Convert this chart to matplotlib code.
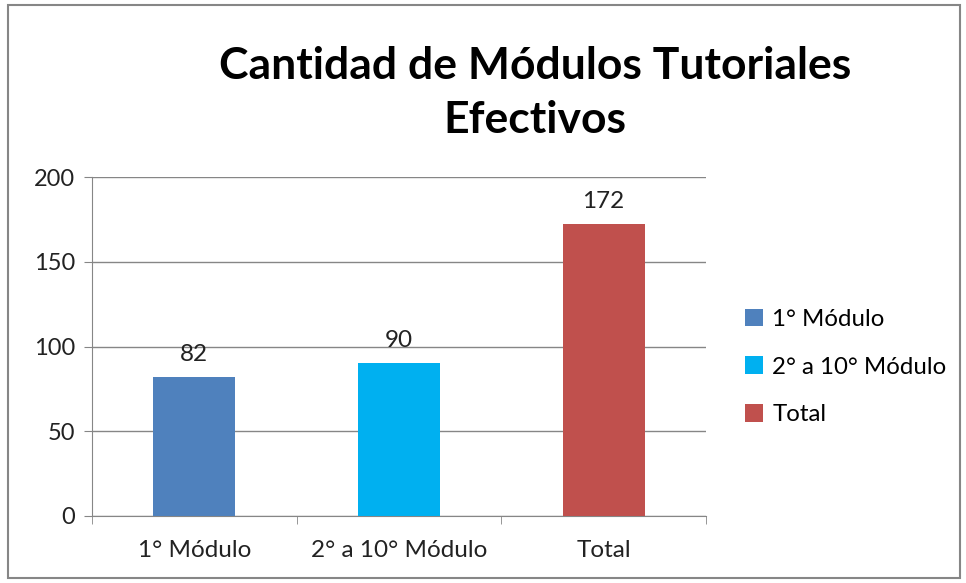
import matplotlib
matplotlib.use('Agg')
import matplotlib.pyplot as plt
from matplotlib.patches import Rectangle, Patch

# Datos del grafico
categorias = ['1° Módulo', '2° a 10° Módulo', 'Total']
valores = [82, 90, 172]
colores = ['#4F81BD', '#00B0F0', '#C0504D']
yticks = [0, 50, 100, 150, 200]

plt.rcParams['font.family'] = ['Lato', 'DejaVu Sans']

W, H = 966, 583
fig = plt.figure(figsize=(W / 100, H / 100), dpi=100)

# marco exterior del grafico
fig.patches.append(Rectangle((8 / W, 5 / H), 952 / W, 573 / H, transform=fig.transFigure,
                             fill=False, edgecolor='#868686', linewidth=1.5))

ax = fig.add_axes([92 / W, 1 - 516 / H, (706 - 92) / W, (516 - 177) / H])

x = range(len(categorias))
bars = ax.bar(x, valores, width=0.4, color=colores, zorder=3)

for xi, v in zip(x, valores):
    ax.annotate(str(v), (xi, v), xytext=(0, 9), textcoords='offset points',
                ha='center', va='bottom', fontsize=17.5, color='#222222')

ax.set_xlim(-0.5, 2.5)
ax.set_ylim(0, 200)
ax.set_yticks(yticks)
ax.set_xticks(list(x))
ax.set_xticklabels(categorias)
ax.set_xticks([-0.5, 0.5, 1.5, 2.5], minor=True)
ax.tick_params(axis='x', which='major', length=0, pad=17, labelsize=17.5, labelcolor='#222222')
ax.tick_params(axis='x', which='minor', length=6, color='#868686', direction='out')
ax.tick_params(axis='y', length=6, color='#868686', pad=6, labelsize=17, labelcolor='#222222')

ax.grid(axis='y', color='#868686', linewidth=1, zorder=0)
for s in ['top', 'right']:
    ax.spines[s].set_visible(False)
for s in ['left', 'bottom']:
    ax.spines[s].set_color('#868686')

# titulo en dos lineas
fig.text(535 / W, 1 - 93 / H, 'Cantidad de Módulos Tutoriales\nEfectivos', ha='center', va='center',
         fontsize=32, fontweight='bold', linespacing=1.45, color='black')

handles = [Patch(facecolor=c, edgecolor='none') for c in colores]
fig.legend(handles, categorias, loc='center left', bbox_to_anchor=(723 / W, 1 - 367 / H),
           frameon=False, fontsize=17.3, handlelength=0.75, handleheight=0.75,
           handletextpad=0.4, labelspacing=1.1)

fig.savefig('out.png', dpi=100)
